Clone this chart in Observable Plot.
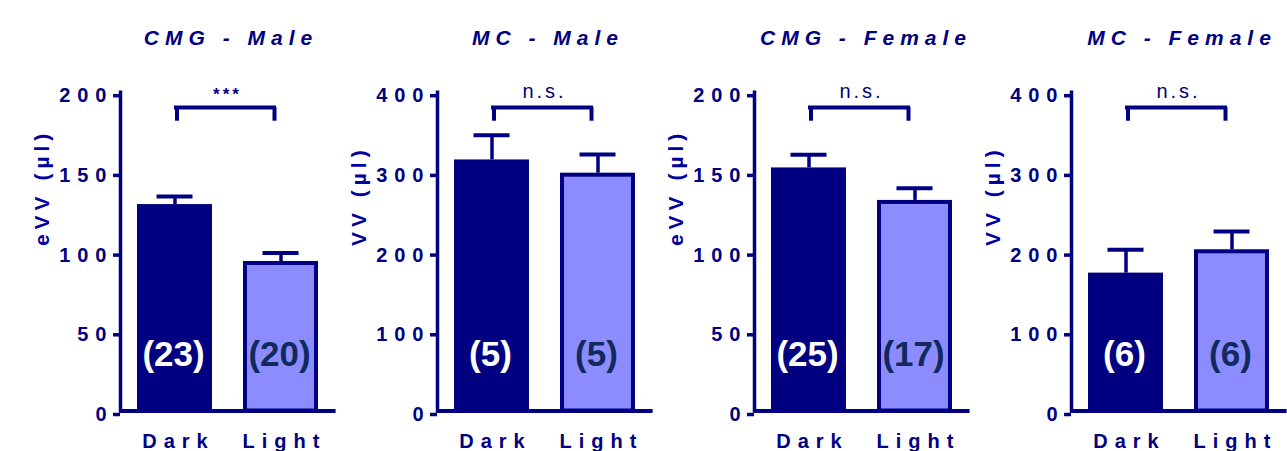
<!DOCTYPE html>
<html>
<head>
<meta charset="utf-8">
<script src="https://cdn.jsdelivr.net/npm/d3@7"></script>
<script src="https://cdn.jsdelivr.net/npm/@observablehq/plot@0.6"></script>
<style>
  body { margin: 0; background: #fff; overflow: hidden; }
  #wrap { position: relative; width: 1287px; height: 451px; overflow: hidden; background: #fff; }
  .panel { position: absolute; top: 0; width: 345px; height: 480px; }
  .title {
    position: absolute; top: 27px; left: 120px; width: 216px; text-align: center;
    font: italic bold 21px/21px "Liberation Sans", Arial, sans-serif;
    letter-spacing: 6px; padding-left: 6px; box-sizing: border-box; color: #000080; white-space: nowrap;
  }
  .panel svg { position: absolute; top: 60px; left: 0; overflow: visible; max-width: none; }
  .panel svg text { letter-spacing: 0px; }
  .panel svg g[aria-label="y-axis tick label"],
  .panel svg g[aria-label="x-axis tick label"] { font-size: 20px; font-weight: bold; }
  .panel svg g[aria-label="y-axis tick label"] text,
  .panel svg g[aria-label="x-axis tick label"] text { letter-spacing: 7px; }
  .panel svg g[aria-label="y label"] text { letter-spacing: 5px; }
  .panel svg g[aria-label="sig"] text { letter-spacing: 3px; }
</style>
</head>
<body>
<div id="wrap"></div>
<script>
// ---- data ----
const panelTitles = ["CMG - Male", "MC - Male", "CMG - Female", "MC - Female"];
const yLabels = ["eVV (\u00b5l)", "VV (\u00b5l)", "eVV (\u00b5l)", "VV (\u00b5l)"];
const groups = ["Dark", "Light"];
const darkMeans = [129.5, 315, 152.5, 173];
const darkUpper = [134.6, 346, 160.7, 202.3];
const lightMeans = [93.8, 298.4, 132.1, 202.3];
const lightUpper = [99.1, 321.8, 139.8, 225.2];
const darkN = [23, 5, 25, 6];
const lightN = [20, 5, 17, 6];
const significance = ["***", "n.s.", "n.s.", "n.s."];
const yTicks = [
  [0, 50, 100, 150, 200],
  [0, 100, 200, 300, 400],
  [0, 50, 100, 150, 200],
  [0, 100, 200, 300, 400]
];

// ---- styles ----
const navy = "#000080";
const lightFill = "#8c8cff";
const lightText = "#102a5e";
const font = "Liberation Sans, Arial, sans-serif";
const tag = (m, label) => { m.ariaLabel = label; return m; };

const wrap = document.getElementById("wrap");

panelTitles.forEach((title, i) => {
  const rows = groups.map((g, j) => ({
    group: g,
    mean: j ? lightMeans[i] : darkMeans[i],
    upper: j ? lightUpper[i] : darkUpper[i],
    n: j ? lightN[i] : darkN[i]
  }));
  const top = yTicks[i][yTicks[i].length - 1];
  const bracket = [{x1: groups[0], x2: groups[1], yTop: top * 0.952, yBot: top * 0.909}];
  const sig = significance[i];
  const sigStar = sig === "***";

  const panel = document.createElement("div");
  panel.className = "panel";
  panel.style.left = (i * 317) + "px";
  const t = document.createElement("div");
  t.className = "title";
  t.textContent = title;
  panel.appendChild(t);

  const chart = Plot.plot({
    width: 340,
    height: 420,
    marginLeft: 120,
    marginRight: 4.4,
    marginTop: 31.7,
    marginBottom: 69.5,
    style: {background: "transparent", overflow: "visible", fontFamily: font, color: navy},
    x: {domain: groups, paddingInner: 0.296, paddingOuter: 0.16, axis: null},
    y: {domain: [0, top], axis: null},
    color: {domain: groups, range: [navy, lightFill]},
    marks: [
      Plot.barY(rows, {x: "group", y: "mean", fill: "group", stroke: navy, strokeWidth: 4,
        insetLeft: 2, insetRight: 2, insetTop: 2}),
      Plot.ruleX(rows, {x: "group", y1: "mean", y2: "upper", stroke: navy, strokeWidth: 3.5}),
      Plot.tickY(rows, {x: "group", y: "upper", stroke: navy, strokeWidth: 4, insetLeft: 19.5, insetRight: 19.5}),
      Plot.ruleY([0], {stroke: navy, strokeWidth: 4}),
      Plot.frame({anchor: "left", stroke: navy, strokeWidth: 3.5}),
      Plot.axisY({ticks: yTicks[i], tickSize: 7, tickPadding: 0, stroke: navy, strokeWidth: 3.5,
        fill: navy, fontSize: 20, fontWeight: "bold", dy: 3.5, label: null}),
      Plot.axisX({tickSize: 0, tickPadding: 22.5, fill: navy, fontSize: 20, fontWeight: "bold",
        dx: 3.5, label: null}),
      tag(Plot.text([yLabels[i]], {frameAnchor: "left", text: d => d, rotate: -90, dx: -78, dy: -5.5,
        fill: "#0000a0", fontSize: 21, fontWeight: "bold"}), "y label"),
      // significance bracket
      Plot.ruleY(bracket, {x1: "x1", x2: "x2", y: "yTop", insetLeft: 39, insetRight: 44,
        stroke: navy, strokeWidth: 4, strokeLinecap: "square"}),
      Plot.ruleX(bracket, {x: "x1", y1: "yBot", y2: "yTop", dx: 2, stroke: navy, strokeWidth: 4}),
      Plot.ruleX(bracket, {x: "x2", y1: "yBot", y2: "yTop", dx: -6.5, stroke: navy, strokeWidth: 4}),
      tag(Plot.text(bracket, {x: "x1", y: () => top * (sigStar ? 0.9755 : 0.9824), text: () => sig,
        dx: 52.5, lineAnchor: "bottom", fill: navy, fontSize: sigStar ? 17 : 20,
        fontWeight: sigStar ? "bold" : "normal"}), "sig"),
      // n labels
      tag(Plot.text(rows, {filter: d => d.group === groups[0], x: "group", y: () => 0, text: d => `(${d.n})`,
        dy: -45.5, dx: -1.5, lineAnchor: "bottom", fill: "white", fontSize: 35, fontWeight: "bold"}), "n label"),
      tag(Plot.text(rows, {filter: d => d.group === groups[1], x: "group", y: () => 0, text: d => `(${d.n})`,
        dy: -45.5, dx: -1.5, lineAnchor: "bottom", fill: lightText, fontSize: 35, fontWeight: "bold"}), "n label")
    ]
  });
  panel.appendChild(chart);
  wrap.appendChild(panel);
});
</script>
</body>
</html>
